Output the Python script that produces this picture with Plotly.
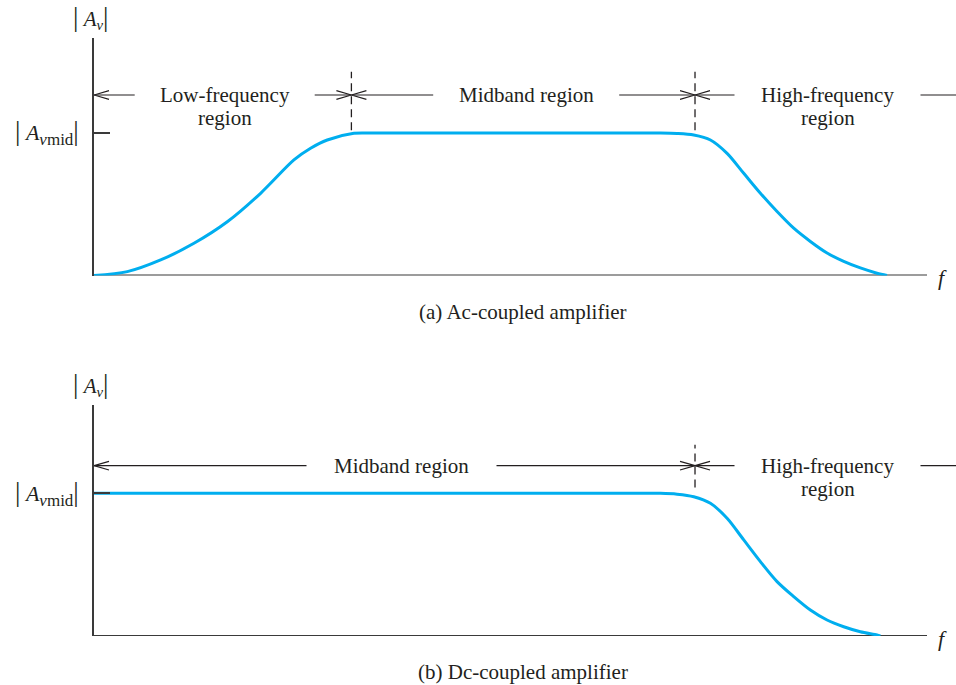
import plotly.graph_objects as go

# ---------------- data (frequency in arbitrary linear units, gain normalised so |Av mid| = 1)
f_axis_end = 10.0          # end of the drawn f axis
f_low_boundary = 3.09      # low-frequency / midband boundary
f_high_boundary = 7.215    # midband / high-frequency boundary
f_high_region_end = 10.8   # high-frequency region continues past the page

ac_freq = [0.0, 0.40, 0.80, 1.20, 1.60, 2.00, 2.40, 2.60, 2.80, 3.12, 3.32, 3.7, 5.0, 6.4,
           6.80, 7.00, 7.20, 7.40, 7.60, 7.80, 8.00, 8.20, 8.40, 8.60, 8.80, 9.00, 9.20,
           9.40, 9.52]
ac_gain = [0.0, 0.027, 0.109, 0.226, 0.377, 0.577, 0.811, 0.893, 0.951, 0.998, 1.0, 1.0, 1.0,
           1.0, 1.0, 0.997, 0.986, 0.951, 0.857, 0.717, 0.577, 0.449, 0.332, 0.239, 0.158,
           0.099, 0.053, 0.016, 0.0]

dc_freq = [0.0, 2.0, 4.0, 6.0, 6.4, 6.80, 7.00, 7.20, 7.40, 7.60, 7.80, 8.00, 8.20, 8.40,
           8.60, 8.80, 9.00, 9.20, 9.40, 9.44]
dc_gain = [1.0, 1.0, 1.0, 1.0, 1.0, 1.0, 0.994, 0.976, 0.930, 0.825, 0.673, 0.521, 0.381,
           0.276, 0.182, 0.112, 0.065, 0.030, 0.007, 0.0]

ac_region_labels = [["Low-frequency", "region"], ["Midband region"], ["High-frequency", "region"]]
dc_region_labels = [["Midband region"], ["High-frequency", "region"]]
captions = ["(a) Ac-coupled amplifier", "(b) Dc-coupled amplifier"]
BAR = "<span style='font-size:27px;fill:#231F20'>|</span>"
y_title = BAR + " <i>A</i><sub><i>v</i></sub>" + BAR
mid_label = (BAR + " <i>A</i><sub><span style='font-size:17px'><i>v</i>mid</span></sub>" + BAR)

# ---------------- styling / layout constants
W, H = 956, 685
FONT = "Liberation Serif"
TXT = "#231F20"
AX = "#3a3a3a"
BLUE = "#00AEEF"
x0_px = 94
px_per_unit = 83.3
x_max = (W - x0_px) / px_per_unit

panels = [
    dict(bottom_px=275.5, top_px=38, mid_px=133, row_px=95, dash=(1.02, 1.43), cap_px=312),
    dict(bottom_px=636, top_px=405, mid_px=493.3, row_px=465.7, dash=(1.04, 1.34), cap_px=672),
]
for p in panels:
    p["dom"] = [1 - p["bottom_px"] / H, 1 - p["top_px"] / H]
    p["ppu"] = p["bottom_px"] - p["mid_px"]
    p["ymax"] = (p["bottom_px"] - p["top_px"]) / p["ppu"]
    p["row"] = (p["bottom_px"] - p["row_px"]) / p["ppu"]

fig = go.Figure()

ac_bounds = [(0, f_low_boundary), (f_low_boundary, f_high_boundary), (f_high_boundary, f_high_region_end)]
dc_bounds = [(0, f_high_boundary), (f_high_boundary, f_high_region_end)]
ac_clear = [90, 93, 93]
dc_clear = [95, 93]
ac_label_shift = [2, 3, 2]   # px nudges of label centre
dc_label_shift = [7, 2]

curves = [(ac_freq, ac_gain), (dc_freq, dc_gain)]
region_sets = [(ac_bounds, ac_region_labels, ac_clear, ac_label_shift),
               (dc_bounds, dc_region_labels, dc_clear, dc_label_shift)]
dash_sets = [[f_low_boundary, f_high_boundary], [f_high_boundary]]

annotations = []
shapes = []
head_len = 15 / px_per_unit

for i, p in enumerate(panels):
    xa = "x" if i == 0 else "x2"
    ya = "y" if i == 0 else "y2"
    # response curve
    fx, fy = curves[i]
    fig.add_trace(go.Scatter(x=fx, y=fy, mode="lines", xaxis=xa, yaxis=ya,
                             line=dict(color=BLUE, width=3, shape="spline", smoothing=0.85),
                             hoverinfo="skip", showlegend=False))
    # f axis baseline
    shapes.append(dict(type="line", xref=xa, yref=ya, x0=0, x1=f_axis_end, y0=0, y1=0,
                       line=dict(color=AX, width=2), layer="below"))
    # dashed boundaries
    for fb in dash_sets[i]:
        shapes.append(dict(type="line", xref=xa, yref=ya, x0=fb, x1=fb,
                           y0=p["dash"][0], y1=p["dash"][1],
                           line=dict(color=TXT, width=1.3, dash="8px,5px")))
    # region arrows + labels
    bounds, labels, clear, shifts = region_sets[i]
    hh = 4.3 / p["ppu"]
    row = p["row"]
    xs, ys = [], []
    for (a, b), lab, cl, sh in zip(bounds, labels, clear, shifts):
        c = (a + min(b, x_max)) / 2 + sh / px_per_unit
        h = cl / px_per_unit
        for tail, head in [(c - h, a), (c + h, b)]:
            xs += [tail, head, None]
            ys += [row, row, None]
            d = 1 if head > tail else -1
            xs += [head - d * head_len, head, head - d * head_len, None]
            ys += [row + hh, row, row - hh, None]
        for k, line in enumerate(lab):
            annotations.append(dict(x=c, y=row - k * 23 / p["ppu"], xref=xa, yref=ya,
                                    text=line, showarrow=False, xanchor="center",
                                    yanchor="middle", font=dict(size=21, family=FONT, color=TXT)))
    fig.add_trace(go.Scatter(x=xs, y=ys, mode="lines", xaxis=xa, yaxis=ya,
                             line=dict(color=TXT, width=1.2), hoverinfo="skip",
                             showlegend=False))
    # axis labels
    annotations.append(dict(x=0, y=1, xref=xa, yref=f"{ya} domain", text=y_title,
                            showarrow=False, xanchor="center", yanchor="bottom", xshift=-4,
                            yshift=3, font=dict(size=21, family=FONT, color=TXT)))
    annotations.append(dict(x=0, y=1, xref=xa, yref=ya, text=mid_label, showarrow=False,
                            xanchor="right", yanchor="middle", xshift=-13,
                            font=dict(size=22, family=FONT, color=TXT)))
    annotations.append(dict(x=f_axis_end, y=0, xref=xa, yref=ya, text="<i>f</i>",
                            showarrow=False, xanchor="left", yanchor="middle", xshift=9,
                            yshift=-2, font=dict(size=22, family=FONT, color=TXT)))
    annotations.append(dict(x=523 / W, y=1 - p["cap_px"] / H, xref="paper",
                            yref="paper", text=captions[i], showarrow=False,
                            xanchor="center", yanchor="middle",
                            font=dict(size=21, family=FONT, color=TXT)))

axis_common = dict(showgrid=False, zeroline=False)
fig.update_layout(
    width=W, height=H, margin=dict(l=0, r=0, t=0, b=0),
    paper_bgcolor="white", plot_bgcolor="white",
    xaxis=dict(domain=[x0_px / W, 1], range=[0, x_max], anchor="y", showticklabels=False,
               ticks="", showline=False, **axis_common),
    yaxis=dict(domain=panels[0]["dom"], range=[0, panels[0]["ymax"]], anchor="x",
               showline=True, linecolor=AX, linewidth=2, tickvals=[1], ticks="inside",
               ticklen=16, tickcolor=AX, tickwidth=1.5, showticklabels=False, **axis_common),
    xaxis2=dict(domain=[x0_px / W, 1], range=[0, x_max], anchor="y2", showticklabels=False,
                ticks="", showline=False, **axis_common),
    yaxis2=dict(domain=panels[1]["dom"], range=[0, panels[1]["ymax"]], anchor="x2",
                showline=True, linecolor=AX, linewidth=2, tickvals=[1], ticks="inside",
                ticklen=16, tickcolor=AX, tickwidth=1.5, showticklabels=False, **axis_common),
    annotations=annotations, shapes=shapes, showlegend=False,
)

fig.write_html("out.html", config={"displayModeBar": False},
               post_script="document.body.style.margin='0';"
               "document.body.style.overflow='hidden';")
